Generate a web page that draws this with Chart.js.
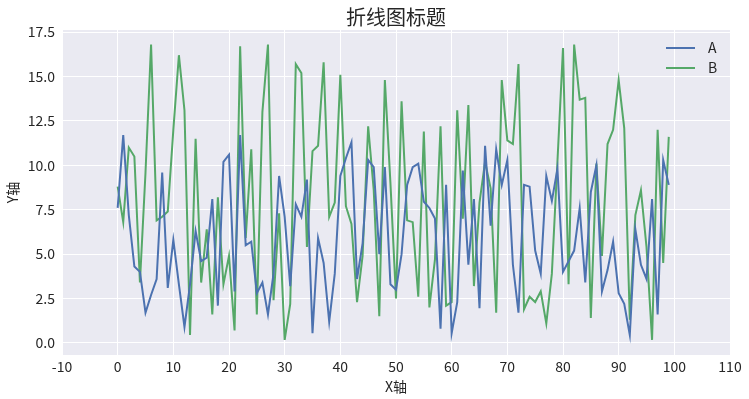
<!DOCTYPE html>
<html>
<head>
<meta charset="utf-8">
<script src="https://cdn.jsdelivr.net/npm/chart.js@4/dist/chart.umd.min.js"></script>
<style>
  html, body { margin: 0; padding: 0; background: #ffffff; }
  canvas { display: block; }
</style>
</head>
<body>
<canvas id="lineChart" width="749" height="399"></canvas>
<script>
// データ
const xValues = Array.from({ length: 100 }, (_, i) => i);
const seriesA = [
    7.6, 11.7, 7.2, 4.3, 4.0, 1.7, 2.7, 3.6, 9.6, 3.1,
    5.8, 3.3, 0.9, 3.3, 6.3, 4.6, 4.8, 8.1, 2.1, 10.2,
    10.6, 2.9, 11.7, 5.5, 5.7, 2.8, 3.4, 1.6, 3.9, 9.4,
    7.1, 3.2, 7.8, 7.1, 9.2, 0.55, 5.9, 4.5, 1.2, 3.9,
    9.4, 10.4, 11.3, 3.6, 5.6, 10.3, 9.9, 5.0, 9.9, 3.3,
    3.0, 5.0, 8.9, 9.9, 10.1, 7.95, 7.6, 7.0, 0.8, 8.9,
    0.55, 2.3, 9.7, 4.4, 8.1, 1.95, 11.1, 6.6, 10.9, 8.9,
    10.3, 4.4, 1.7, 8.9, 8.8, 5.2, 3.9, 9.4, 8.0, 9.8,
    4.0, 4.6, 5.2, 7.6, 3.4, 8.5, 10.0, 2.9, 4.1, 5.7,
    2.8, 2.2, 0.45, 6.4, 4.4, 3.6, 8.1, 1.6, 10.3, 8.9
];
const seriesB = [
    8.8, 6.8, 11.0, 10.5, 3.4, 9.6, 16.8, 6.9, 7.1, 7.4,
    12.0, 16.2, 13.1, 0.45, 11.5, 3.4, 6.4, 1.6, 8.2, 3.3,
    4.9, 0.7, 16.7, 5.9, 10.9, 1.6, 13.0, 16.8, 2.4, 7.3,
    0.17, 2.2, 15.7, 15.2, 5.4, 10.8, 11.1, 15.8, 7.1, 7.9,
    15.1, 7.7, 6.7, 2.3, 4.9, 12.2, 8.6, 1.5, 14.8, 9.0,
    2.5, 13.6, 6.9, 6.8, 2.6, 11.9, 2.0, 4.7, 12.2, 2.1,
    2.3, 13.1, 7.0, 13.4, 3.2, 7.9, 10.2, 8.7, 1.7, 14.8,
    11.4, 11.2, 15.7, 1.9, 2.6, 2.3, 2.9, 1.1, 3.9, 10.2,
    16.6, 3.3, 16.8, 13.7, 13.8, 1.4, 10.1, 4.9, 11.2, 12.0,
    14.8, 12.1, 1.3, 7.2, 8.6, 5.4, 0.17, 12.0, 4.5, 11.6
];
const seriesNames = ['A', 'B'];
const seriesColors = ['#4C72B0', '#55A868'];
const yTicks = [0, 2.5, 5, 7.5, 10, 12.5, 15, 17.5];
const chartTitle = '折线图标题';

const FONT = '"Noto Sans CJK SC", "DejaVu Sans", sans-serif';
const TEXT_COLOR = '#262626';

// プロット領域の背景
const plotBackground = {
    id: 'plotBackground',
    beforeDraw: function (chart) {
        const { ctx, chartArea } = chart;
        ctx.save();
        ctx.fillStyle = '#EAEAF2';
        ctx.fillRect(chartArea.left, chartArea.top, chartArea.right - chartArea.left, chartArea.bottom - chartArea.top);
        ctx.restore();
    }
};

// タイトル（プロット領域の中央に合わせる）
const plotTitle = {
    id: 'plotTitle',
    afterDraw: function (chart) {
        const { ctx, chartArea } = chart;
        ctx.save();
        ctx.font = '20px ' + FONT;
        ctx.fillStyle = TEXT_COLOR;
        ctx.textAlign = 'center';
        ctx.textBaseline = 'middle';
        ctx.fillText(chartTitle, (chartArea.left + chartArea.right) / 2, 17);
        ctx.restore();
    }
};

// 凡例（プロット内右上）
const innerLegend = {
    id: 'innerLegend',
    afterDraw: function (chart) {
        const { ctx, chartArea } = chart;
        ctx.save();
        ctx.font = '14px ' + FONT;
        ctx.textBaseline = 'middle';
        seriesNames.forEach(function (name, i) {
            const y = chartArea.top + 18 + i * 20;
            const x0 = chartArea.right - 64;
            ctx.strokeStyle = seriesColors[i];
            ctx.lineWidth = 2;
            ctx.beginPath();
            ctx.moveTo(x0, y);
            ctx.lineTo(x0 + 29, y);
            ctx.stroke();
            ctx.fillStyle = TEXT_COLOR;
            ctx.fillText(name, x0 + 42, y);
        });
        ctx.restore();
    }
};

new Chart(document.getElementById('lineChart'), {
    type: 'line',
    data: {
        datasets: seriesNames.map(function (name, i) {
            const values = i === 0 ? seriesA : seriesB;
            return {
                label: name,
                data: xValues.map((x, j) => ({ x: x, y: values[j] })),
                borderColor: seriesColors[i],
                borderWidth: 2,
                pointRadius: 0,
                tension: 0,
                fill: false
            };
        })
    },
    options: {
        responsive: false,
        animation: false,
        layout: { padding: { left: 0, right: 19, top: 30, bottom: 0 } },
        plugins: {
            legend: { display: false },
            tooltip: { enabled: false },
            title: { display: false }
        },
        scales: {
            x: {
                type: 'linear',
                min: -10,
                max: 110,
                ticks: {
                    stepSize: 10,
                    color: TEXT_COLOR,
                    font: { family: FONT, size: 14 },
                    padding: 3,
                    maxRotation: 0
                },
                grid: { color: '#ffffff', lineWidth: 1, drawTicks: false },
                border: { display: false },
                title: {
                    display: true,
                    text: 'X轴',
                    color: TEXT_COLOR,
                    font: { family: FONT, size: 14 },
                    padding: { top: 0, bottom: 4 }
                },
                afterFit: function (scale) { scale.height = 44; }
            },
            y: {
                type: 'linear',
                min: -0.68,
                max: 17.62,
                afterBuildTicks: function (scale) {
                    scale.ticks = yTicks.map(v => ({ value: v }));
                },
                ticks: {
                    color: TEXT_COLOR,
                    font: { family: FONT, size: 14 },
                    padding: 7,
                    callback: v => Number(v).toFixed(1)
                },
                grid: { color: '#ffffff', lineWidth: 1, drawTicks: false },
                border: { display: false },
                title: {
                    display: true,
                    text: 'Y轴',
                    color: TEXT_COLOR,
                    font: { family: FONT, size: 14 },
                    padding: { top: 4, bottom: 0 }
                },
                afterFit: function (scale) { scale.width = 62; }
            }
        }
    },
    plugins: [plotBackground, plotTitle, innerLegend]
});
</script>
</body>
</html>
